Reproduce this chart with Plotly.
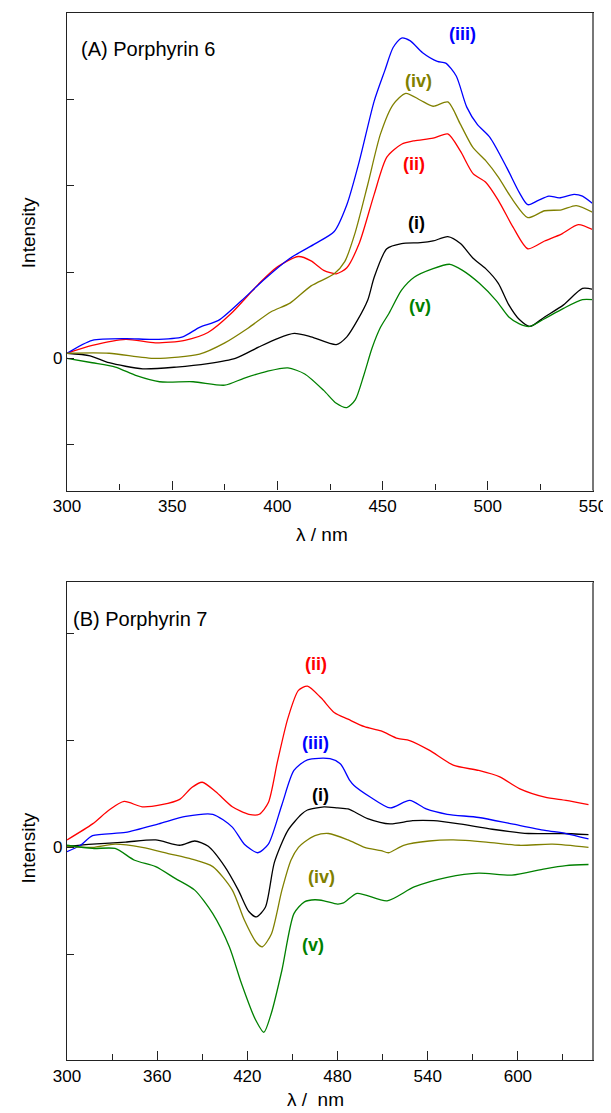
import plotly.graph_objects as go

# ---------------- Panel A: Porphyrin 6 ----------------
a_i_x = [300, 311, 320, 336, 352, 367, 380, 391, 400, 408, 416, 428, 433, 438, 443, 446, 452, 459, 468, 474, 481, 487, 493, 499, 505, 510, 515, 520, 527, 536, 545, 550]
a_i_y = [0.06, 0.03, -0.05, -0.12, -0.10, -0.06, 0.00, 0.13, 0.23, 0.29, 0.25, 0.16, 0.25, 0.44, 0.68, 0.94, 1.27, 1.33, 1.34, 1.36, 1.41, 1.33, 1.16, 1.04, 0.87, 0.62, 0.45, 0.37, 0.48, 0.62, 0.81, 0.80]

a_ii_x = [300, 312, 328, 342, 356, 367, 378, 391, 400, 410, 416, 422, 428, 433, 439, 446, 452, 459, 465, 474, 481, 487, 493, 499, 505, 512, 519, 527, 535, 543, 550]
a_ii_y = [0.06, 0.15, 0.22, 0.18, 0.21, 0.30, 0.52, 0.86, 1.06, 1.18, 1.13, 1.02, 0.98, 1.05, 1.34, 1.90, 2.33, 2.48, 2.52, 2.55, 2.60, 2.40, 2.14, 2.04, 1.83, 1.52, 1.27, 1.36, 1.44, 1.55, 1.49]

a_iii_x = [300, 312, 328, 341, 355, 363, 372, 383, 394, 406, 418, 427, 433, 439, 446, 451, 455, 459, 463, 469, 476, 480, 485, 490, 495, 501, 509, 515, 519, 524, 529, 534, 541, 545, 550]
a_iii_y = [0.06, 0.21, 0.23, 0.22, 0.25, 0.36, 0.44, 0.67, 0.92, 1.16, 1.33, 1.47, 1.78, 2.29, 2.98, 3.33, 3.60, 3.71, 3.68, 3.54, 3.44, 3.42, 3.27, 2.91, 2.71, 2.56, 2.21, 1.92, 1.78, 1.83, 1.88, 1.86, 1.90, 1.88, 1.79]

a_iv_x = [300, 320, 342, 363, 375, 386, 397, 406, 416, 427, 432, 437, 443, 449, 455, 461, 468, 474, 481, 487, 493, 499, 505, 512, 519, 527, 535, 542, 550]
a_iv_y = [0.06, 0.06, 0.00, 0.05, 0.18, 0.35, 0.54, 0.64, 0.84, 0.98, 1.12, 1.46, 2.02, 2.60, 2.94, 3.07, 2.99, 2.92, 2.97, 2.71, 2.44, 2.29, 2.10, 1.83, 1.63, 1.71, 1.72, 1.77, 1.69]

a_v_x = [300, 312, 323, 333, 344, 360, 375, 384, 395, 405, 413, 422, 428, 433, 437, 441, 445, 449, 453, 459, 465, 474, 482, 488, 496, 504, 510, 515, 520, 527, 536, 545, 550]
a_v_y = [0.00, -0.05, -0.10, -0.20, -0.27, -0.27, -0.31, -0.23, -0.15, -0.11, -0.18, -0.37, -0.52, -0.57, -0.48, -0.20, 0.12, 0.36, 0.52, 0.79, 0.94, 1.04, 1.09, 1.02, 0.87, 0.67, 0.48, 0.40, 0.37, 0.46, 0.58, 0.68, 0.68]

# ---------------- Panel B: Porphyrin 7 ----------------
b_i_x = [300, 317, 339, 359, 375, 385, 394, 405, 414, 421, 426, 432, 438, 447, 456, 460, 471, 480, 487, 500, 515, 530, 544, 561, 583, 607, 629, 647]
b_i_y = [0.01, 0.03, 0.05, 0.07, 0.02, 0.06, 0.01, -0.18, -0.40, -0.60, -0.65, -0.56, -0.14, 0.16, 0.31, 0.35, 0.38, 0.37, 0.36, 0.27, 0.22, 0.25, 0.25, 0.22, 0.17, 0.13, 0.13, 0.12]

b_ii_x = [300, 317, 328, 338, 350, 363, 375, 383, 390, 399, 410, 421, 428, 434, 440, 447, 454, 460, 469, 478, 487, 498, 509, 520, 528, 541, 557, 574, 588, 601, 618, 632, 647]
b_ii_y = [0.07, 0.22, 0.35, 0.43, 0.38, 0.40, 0.45, 0.56, 0.61, 0.52, 0.38, 0.31, 0.31, 0.42, 0.80, 1.21, 1.47, 1.51, 1.40, 1.26, 1.20, 1.13, 1.09, 1.02, 1.00, 0.91, 0.77, 0.72, 0.66, 0.55, 0.47, 0.44, 0.40]

b_iii_x = [300, 309, 317, 339, 361, 379, 397, 410, 418, 427, 434, 443, 451, 460, 475, 482, 488, 491, 502, 515, 528, 539, 553, 574, 596, 618, 632, 647]
b_iii_y = [-0.04, 0.02, 0.11, 0.14, 0.22, 0.29, 0.31, 0.19, 0.03, -0.05, 0.03, 0.40, 0.72, 0.82, 0.83, 0.78, 0.63, 0.58, 0.47, 0.37, 0.44, 0.36, 0.31, 0.28, 0.22, 0.16, 0.13, 0.08]

b_iv_x = [300, 317, 332, 350, 368, 383, 397, 410, 418, 426, 430, 436, 443, 449, 454, 458, 465, 474, 487, 498, 509, 514, 524, 541, 557, 579, 601, 623, 647]
b_iv_y = [0.01, 0.00, 0.03, 0.00, -0.06, -0.11, -0.18, -0.40, -0.68, -0.89, -0.93, -0.81, -0.40, -0.12, 0.00, 0.05, 0.11, 0.13, 0.07, 0.00, -0.03, -0.05, 0.02, 0.06, 0.07, 0.05, 0.02, 0.03, 0.00]

b_v_x = [300, 317, 332, 345, 359, 372, 385, 397, 408, 416, 425, 431, 436, 443, 451, 458, 465, 471, 480, 484, 493, 513, 531, 553, 574, 596, 618, 632, 647]
b_v_y = [0.02, -0.01, -0.01, -0.12, -0.18, -0.29, -0.40, -0.62, -0.93, -1.27, -1.60, -1.73, -1.55, -1.15, -0.62, -0.51, -0.49, -0.50, -0.53, -0.52, -0.43, -0.50, -0.37, -0.28, -0.24, -0.26, -0.20, -0.17, -0.16]

series_labels = ["(i)", "(ii)", "(iii)", "(iv)", "(v)"]
colors = ["#000000", "#FF0000", "#0000FF", "#808000", "#008000"]

# label anchor positions (data coordinates)
a_label_x = [466, 465, 488, 467, 468]
a_label_y = [1.57, 2.25, 3.76, 3.21, 0.61]
b_label_x = [469, 465.5, 465.5, 469.5, 463.5]
b_label_y = [0.49, 1.72, 0.98, -0.28, -0.91]

FONT = "Liberation Sans, Arial, sans-serif"

# page offset (browser body margin) and target screen geometry
OFF = 8
SCREEN_W, SCREEN_H = 611, 1113
W, H = SCREEN_W - OFF, SCREEN_H - OFF
# plot box in screen px
X_LEFT, X_RIGHT = 67, 598
A_TOP, A_BOT = 12, 490
B_TOP, B_BOT = 582, 1060

ML = X_LEFT - OFF
MR = SCREEN_W - X_RIGHT
MT = A_TOP - OFF
MB = SCREEN_H - B_BOT
PW = W - ML - MR
PH = H - MT - MB


def sx(px):
    return (px - X_LEFT) / PW


def sy(py):
    return (B_BOT - py) / PH


fig = go.Figure()

a_sets = [(a_i_x, a_i_y), (a_ii_x, a_ii_y), (a_iii_x, a_iii_y), (a_iv_x, a_iv_y), (a_v_x, a_v_y)]
b_sets = [(b_i_x, b_i_y), (b_ii_x, b_ii_y), (b_iii_x, b_iii_y), (b_iv_x, b_iv_y), (b_v_x, b_v_y)]

for (x, y), c, n in zip(a_sets, colors, series_labels):
    fig.add_trace(go.Scatter(x=x, y=y, mode="lines", name=n, xaxis="x", yaxis="y",
                             line=dict(color=c, width=1.3, shape="spline", smoothing=0.7),
                             showlegend=False))
for (x, y), c, n in zip(b_sets, colors, series_labels):
    fig.add_trace(go.Scatter(x=x, y=y, mode="lines", name=n, xaxis="x2", yaxis="y2",
                             line=dict(color=c, width=1.3, shape="spline", smoothing=0.7),
                             showlegend=False))

ann = []
for t, c, lx, ly in zip(series_labels, colors, a_label_x, a_label_y):
    ann.append(dict(x=lx, y=ly, xref="x", yref="y", text="<b>" + t + "</b>", showarrow=False,
                    xanchor="center", yanchor="middle",
                    font=dict(family=FONT, size=18, color=c)))
for t, c, lx, ly in zip(series_labels, colors, b_label_x, b_label_y):
    ann.append(dict(x=lx, y=ly, xref="x2", yref="y2", text="<b>" + t + "</b>", showarrow=False,
                    xanchor="center", yanchor="middle",
                    font=dict(family=FONT, size=18, color=c)))

ann.append(dict(x=sx(79), y=sy(48), xref="paper", yref="paper", text="(A) Porphyrin 6", showarrow=False,
                xanchor="left", yanchor="middle", font=dict(family=FONT, size=20, color="black")))
ann.append(dict(x=sx(71), y=sy(619), xref="paper", yref="paper", text="(B) Porphyrin 7", showarrow=False,
                xanchor="left", yanchor="middle", font=dict(family=FONT, size=20, color="black")))

for cy in (232, 848):
    ann.append(dict(x=sx(28), y=sy(cy), xref="paper", yref="paper", text="Intensity", showarrow=False,
                    textangle=-90, xanchor="center", yanchor="middle",
                    font=dict(family=FONT, size=19, color="black")))
ann.append(dict(x=sx(324), y=sy(534), xref="paper", yref="paper", text="λ / nm", showarrow=False,
                xanchor="center", yanchor="middle", font=dict(family=FONT, size=19, color="black")))
ann.append(dict(x=sx(318), y=sy(1100), xref="paper", yref="paper", text="λ /  nm", showarrow=False,
                xanchor="center", yanchor="middle", font=dict(family=FONT, size=19, color="black")))

axis_common = dict(showline=True, linecolor="#222", linewidth=1.2, mirror=True, ticks="inside",
                   tickcolor="#222", showgrid=False, zeroline=False, ticklabeloverflow="allow",
                   tickfont=dict(family=FONT, size=17, color="black"))

fig.update_layout(
    width=W, height=H,
    margin=dict(l=ML, r=MR, t=MT, b=MB),
    plot_bgcolor="white", paper_bgcolor="white",
    annotations=ann,
    xaxis=dict(domain=[0, 1], anchor="y", range=[300, 550], tickmode="linear", tick0=300, dtick=50,
               ticklen=9, minor=dict(ticks="inside", dtick=25, ticklen=6, tickcolor="#222"),
               **axis_common),
    yaxis=dict(domain=[sy(A_BOT), sy(A_TOP)], anchor="x", range=[-1.53, 4.0],
               tickvals=[-1, 0, 1, 2, 3], ticktext=["", "0", "", "", ""], ticklen=7, **axis_common),
    xaxis2=dict(domain=[0, 1], anchor="y2", range=[300, 650], tickmode="linear", tick0=300, dtick=60,
                ticklen=9, minor=dict(ticks="inside", dtick=30, ticklen=6, tickcolor="#222"),
                **axis_common),
    yaxis2=dict(domain=[sy(B_BOT), sy(B_TOP)], anchor="x2", range=[-1.99, 2.48],
                tickvals=[-1, 0, 1, 2], ticktext=["", "0", "", ""], ticklen=7, **axis_common),
)

fig.add_shape(type="line", xref="x domain", yref="y domain", x0=1, x1=1, y0=0, y1=1,
              line=dict(color="#777", width=2))
fig.add_shape(type="line", xref="x2 domain", yref="y2 domain", x0=1, x1=1, y0=0, y1=1,
              line=dict(color="#777", width=2))

fig.write_html("out.html")
